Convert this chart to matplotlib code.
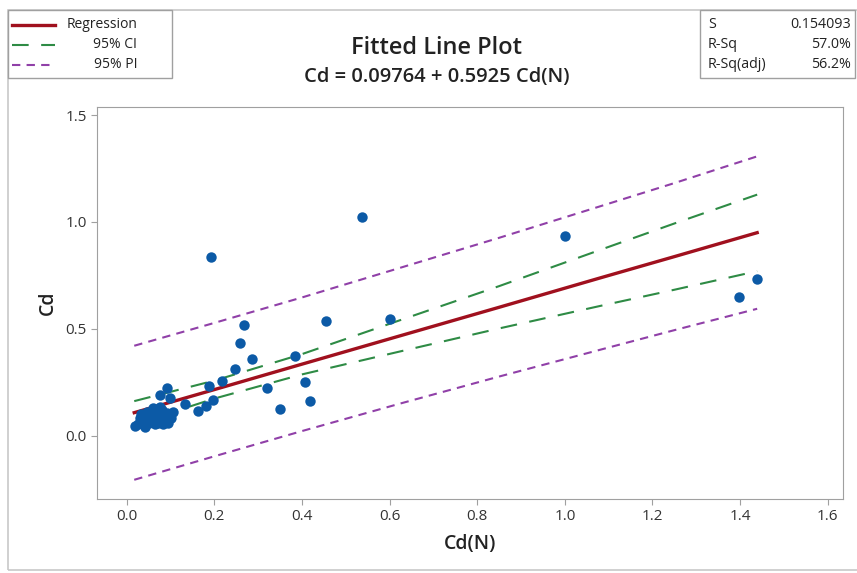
import matplotlib.pyplot as plt
from matplotlib.patches import Rectangle
from matplotlib.lines import Line2D

plt.rcParams['font.family'] = ['Open Sans', 'DejaVu Sans']

# observed points (Cd(N), Cd)
cd_n = [1.438, 1.397, 1.000, 0.537, 0.600, 0.454, 0.192, 0.267, 0.258, 0.285,
        0.247, 0.217, 0.187, 0.197, 0.180, 0.163, 0.132, 0.319, 0.384, 0.407,
        0.418, 0.349,
        0.018, 0.041, 0.064, 0.083, 0.102, 0.106, 0.098, 0.091, 0.075, 0.030,
        0.045, 0.060, 0.075, 0.053, 0.075, 0.091, 0.037, 0.068, 0.083, 0.025,
        0.050, 0.070, 0.088, 0.058, 0.040, 0.062, 0.080, 0.095, 0.033, 0.072,
        0.055, 0.066, 0.085]
cd = [0.733, 0.649, 0.934, 1.023, 0.546, 0.537, 0.836, 0.517, 0.433, 0.359,
      0.312, 0.256, 0.233, 0.167, 0.140, 0.114, 0.148, 0.225, 0.371, 0.251,
      0.161, 0.126,
      0.047, 0.042, 0.053, 0.053, 0.081, 0.112, 0.175, 0.222, 0.190, 0.081,
      0.112, 0.128, 0.136, 0.081, 0.089, 0.105, 0.066, 0.066, 0.081, 0.055,
      0.060, 0.100, 0.070, 0.095, 0.090, 0.075, 0.120, 0.060, 0.100, 0.058,
      0.110, 0.085, 0.095]

# fitted line and bands, read at these x positions
x_fit = [0.017, 0.2, 0.4, 0.623, 0.85, 1.08, 1.25, 1.439]
fit = [0.108, 0.216, 0.335, 0.467, 0.601, 0.738, 0.838, 0.950]
ci_up = [0.162, 0.258, 0.382, 0.540, 0.700, 0.869, 0.993, 1.128]
ci_lo = [0.053, 0.174, 0.287, 0.394, 0.502, 0.607, 0.683, 0.770]
pi_up = [0.421, 0.528, 0.647, 0.785, 0.926, 1.073, 1.182, 1.307]
pi_lo = [-0.206, -0.096, 0.022, 0.150, 0.277, 0.402, 0.494, 0.594]

red = '#A0101E'
green = '#2E8B45'
purple = '#9040A8'
blue = '#0C5AA6'
gray = '#A0A0A0'
txt = '#222222'

fig = plt.figure(figsize=(8.57, 5.73), dpi=100)
ax = fig.add_axes([0.1132, 0.1291, 0.8705, 0.6842])

ax.plot(x_fit, pi_up, color=purple, lw=1.5, dashes=(4, 3))
ax.plot(x_fit, pi_lo, color=purple, lw=1.5, dashes=(4, 3))
ax.plot(x_fit, ci_up, color=green, lw=1.5, dashes=(8, 6))
ax.plot(x_fit, ci_lo, color=green, lw=1.5, dashes=(8, 6))
ax.plot(x_fit, fit, color=red, lw=2.4)
ax.plot(cd_n, cd, 'o', color=blue, ms=7.5, mec='none')

ax.set_xlim(-0.068, 1.635)
ax.set_ylim(-0.296, 1.538)
ax.set_xticks([0.0, 0.2, 0.4, 0.6, 0.8, 1.0, 1.2, 1.4, 1.6])
ax.set_yticks([0.0, 0.5, 1.0, 1.5])
for s in ax.spines.values():
    s.set_color(gray)
ax.tick_params(colors=gray, labelcolor='#333333', labelsize=11, length=4)
ax.set_xlabel('Cd(N)', fontsize=14, fontweight='semibold', color=txt, labelpad=7)
ax.set_ylabel('Cd', fontsize=14, fontweight='semibold', color=txt, labelpad=5)

# outer frame
fig.patches.append(Rectangle((8 / 857, 0.005), 1, 1 - 10 / 573 - 0.005, transform=fig.transFigure,
                             fill=False, ec='#C8C8C8', lw=1.2))

fig.text(437 / 857, 1 - 48 / 573, 'Fitted Line Plot', ha='center', va='center',
         fontsize=17, fontweight='semibold', color=txt)
fig.text(437 / 857, 1 - 77 / 573, 'Cd = 0.09764 + 0.5925 Cd(N)', ha='center', va='center',
         fontsize=14.5, fontweight='semibold', color=txt)

# legend box
fig.patches.append(Rectangle((8 / 857, 1 - 78 / 573), 164 / 857, 68 / 573, transform=fig.transFigure,
                             fc='white', ec='#A0A0A0', lw=1))
rows = [1 - 25 / 573, 1 - 45 / 573, 1 - 65 / 573]
leg = [('Regression', red, 2.4, None), ('95% CI', green, 1.5, (8, 6)), ('95% PI', purple, 1.5, (4, 3))]
for (lab, c, lw, d), yy in zip(leg, rows):
    ln = Line2D([12 / 857, 55 / 857], [yy, yy], transform=fig.transFigure, color=c, lw=lw)
    if d:
        ln.set_dashes(d)
    fig.lines.append(ln)
    fig.text(137 / 857, yy, lab, ha='right', va='center', fontsize=10, color=txt)

# stats box
fig.patches.append(Rectangle((700 / 857, 1 - 78 / 573), 155 / 857, 68 / 573, transform=fig.transFigure,
                             fc='white', ec='#A0A0A0', lw=1))
stats = [('S', '0.154093'), ('R-Sq', '57.0%'), ('R-Sq(adj)', '56.2%')]
for (k, v), yy in zip(stats, rows):
    fig.text(708 / 857, yy, k, ha='left', va='center', fontsize=10.3, color=txt)
    fig.text(851 / 857, yy, v, ha='right', va='center', fontsize=10.3, color=txt)

fig.savefig('out.png', dpi=100)
